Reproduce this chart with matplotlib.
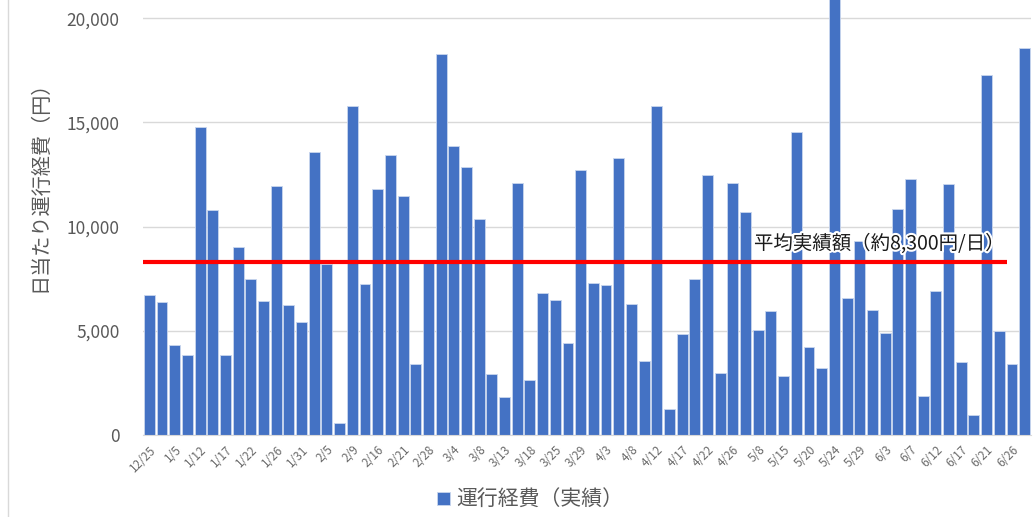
import matplotlib
matplotlib.use("Agg")
import matplotlib.pyplot as plt
import matplotlib.patheffects as pe
from matplotlib.lines import Line2D
import numpy as np

plt.rcParams['font.family'] = ['Noto Sans CJK JP', 'DejaVu Sans']

# every other category is labelled on the axis
tick_labels = ["12/25", "1/5", "1/12", "1/17", "1/22", "1/26", "1/31", "2/5", "2/9",
               "2/16", "2/21", "2/28", "3/4", "3/8", "3/13", "3/18", "3/25", "3/29",
               "4/3", "4/8", "4/12", "4/17", "4/22", "4/26", "5/8", "5/15", "5/20",
               "5/24", "5/29", "6/3", "6/7", "6/12", "6/17", "6/21", "6/26"]

costs = [6700, 6400, 4330, 3840, 14790, 10810, 3850, 9000, 7510, 6440,
         11970, 6220, 5420, 13600, 8220, 580, 15800, 7240, 11800, 13450,
         11490, 3430, 8250, 18300, 13860, 12880, 10370, 2930, 1840, 12090,
         2640, 6810, 6490, 4410, 12720, 7320, 7210, 13300, 6310, 3530,
         15780, 1250, 4830, 7480, 12480, 2960, 12100, 10710, 5050, 5930,
         2830, 14560, 4240, 3240, 22000, 6600, 9330, 6010, 4920, 10870,
         12290, 1870, 6910, 12050, 3520, 960, 17280, 5000, 3430, 18580]

average = 8300
avg_label = "平均実績額（約8,300円/日）"
series_name = "運行経費（実績）"
y_label = "日当たり運行経費（円）"

bar_color = "#4472C4"
text_gray = "#595959"

fig = plt.figure(figsize=(10.34, 5.17), dpi=100)
ax = fig.add_axes([143/1034, 1-435/517, (1031-143)/1034, 435/517])

x = np.arange(len(costs))
ax.bar(x, costs, width=0.86, color=bar_color, edgecolor="#c9d6ee", linewidth=0.6,
       label=series_name, zorder=2)

ax.set_xlim(-0.5, len(costs) - 0.5)
ax.set_ylim(0, 20880)
ax.set_yticks([0, 5000, 10000, 15000, 20000])
ax.set_yticklabels([f"{v:,}" for v in [0, 5000, 10000, 15000, 20000]])
ax.tick_params(axis='y', length=0, pad=17, labelsize=12.5, labelcolor=text_gray)
ax.grid(axis='y', color="#d9d9d9", linewidth=1, zorder=0)
ax.set_axisbelow(True)

ax.set_xticks(x[::2])
ax.set_xticklabels(tick_labels, rotation=45, ha='right', va='top',
                   rotation_mode='anchor', fontsize=8.5, color="#6a6a6a")
ax.tick_params(axis='x', length=0, pad=6)

for s in ['top', 'right', 'left']:
    ax.spines[s].set_visible(False)
ax.spines['bottom'].set_color("#d9d9d9")

# average line
ax.plot([-0.5, 67.6], [average, average], color="#FF0000", linewidth=3, zorder=3,
        solid_capstyle='butt')
ax.text(0.688, 9170, avg_label, transform=ax.get_yaxis_transform(),
        ha='left', va='center', fontsize=14, color="#1a1a1a", zorder=4,
        path_effects=[pe.withStroke(linewidth=3, foreground='white')])

fig.text(40/1034, 1-181/517, y_label, rotation=90, ha='center', va='center',
         fontsize=14.5, color=text_gray)

handles, labels = ax.get_legend_handles_labels()
leg = fig.legend(handles, labels, loc='center', bbox_to_anchor=(530/1034, 1-500/517),
                 frameon=False, fontsize=15, handlelength=0.6, handleheight=0.6,
                 handletextpad=0.3, labelcolor=text_gray)

# chart frame left border
fig.add_artist(Line2D([8/1034, 8/1034], [0, 1], transform=fig.transFigure,
                      color="#d9d9d9", linewidth=1))

fig.savefig("out.png", dpi=100)
